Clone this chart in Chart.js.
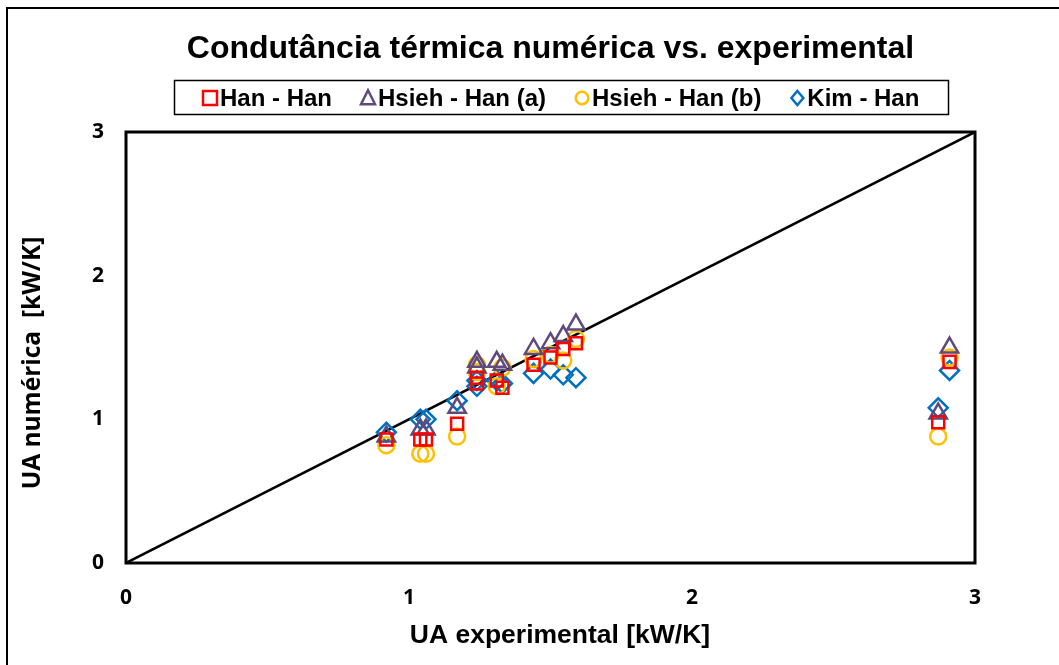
<!DOCTYPE html>
<html>
<head>
<meta charset="utf-8">
<script src="https://cdn.jsdelivr.net/npm/chart.js@4"></script>
<style>
html,body{margin:0;padding:0;background:#fff;}
#wrap{width:1059px;height:665px;position:relative;}
</style>
</head>
<body>
<div id="wrap"><canvas id="c" width="1059" height="665"></canvas></div>
<script>
// x values (UA experimental) shared by all series
const uaExp = [0.92, 1.04, 1.06, 1.17, 1.24, 1.24, 1.31, 1.33, 1.44, 1.50, 1.545, 1.59, 2.87, 2.91];
const hanHan   = [0.86, 0.86, 0.86, 0.97, 1.29, 1.25, 1.27, 1.22, 1.38, 1.43, 1.49, 1.53, 0.98, 1.40];
const hsiehA   = [0.88, 0.93, 0.93, 1.08, 1.40, 1.36, 1.40, 1.38, 1.49, 1.53, 1.58, 1.66, 1.04, 1.50];
const hsiehB   = [0.82, 0.76, 0.76, 0.88, 1.38, 1.33, 1.23, 1.36, 1.42, 1.45, 1.41, 1.56, 0.88, 1.43];
const kimHan   = [0.91, 1.00, 1.00, 1.13, 1.27, 1.23, 1.27, 1.25, 1.32, 1.35, 1.31, 1.29, 1.08, 1.34];
const lineX = [0, 3];
const lineY = [0, 3];
const tickValues = [0, 1, 2, 3];
const seriesNames = ['Han - Han', 'Hsieh - Han (a)', 'Hsieh - Han (b)', 'Kim - Han'];
const titleText = 'Condutância térmica numérica vs. experimental';
const xTitle = 'UA experimental [kW/K]';
const yTitle = 'UA numérica  [kW/K]';

const pts = (xs, ys) => xs.map((x, i) => ({x: x, y: ys[i]}));

function drawMarker(ctx, style, color, cx, cy, r, lw) {
  ctx.save();
  ctx.strokeStyle = color; ctx.lineWidth = lw;
  ctx.beginPath();
  if (style === 'rect') {
    ctx.rect(cx - r, cy - r, 2 * r, 2 * r);
  } else if (style === 'triangle') {
    ctx.moveTo(cx, cy - r * 1.1); ctx.lineTo(cx + r, cy + r * 0.9); ctx.lineTo(cx - r, cy + r * 0.9); ctx.closePath();
  } else if (style === 'circle') {
    ctx.arc(cx, cy, r * 0.9, 0, Math.PI * 2);
  } else {
    ctx.moveTo(cx, cy - r); ctx.lineTo(cx + r * 0.85, cy); ctx.lineTo(cx, cy + r); ctx.lineTo(cx - r * 0.85, cy); ctx.closePath();
  }
  ctx.stroke();
  ctx.restore();
}

const framePlugin = {
  id: 'frame',
  beforeDraw(chart) {
    const ctx = chart.ctx;
    ctx.save();
    ctx.strokeStyle = '#000';
    ctx.lineWidth = 2;
    ctx.beginPath();
    ctx.moveTo(7, 670); ctx.lineTo(7, 8); ctx.lineTo(1070, 8);
    ctx.stroke();
    ctx.restore();
  },
  afterDatasetsDraw(chart) {
    const ctx = chart.ctx, a = chart.chartArea;
    ctx.save();
    ctx.strokeStyle = '#000';
    ctx.lineWidth = 3;
    ctx.strokeRect(a.left, a.top, a.right - a.left, a.bottom - a.top);
    ctx.restore();
  },
  afterDraw(chart) {
    const ctx = chart.ctx;
    ctx.save();
    // custom legend
    const items = chart.data.datasets.filter(d => d.type === 'scatter');
    ctx.font = 'bold 24px "Liberation Sans", Arial';
    ctx.textBaseline = 'middle';
    ctx.fillStyle = '#000';
    const mW = 14, gapT = 3, gapI = 29, pad = 29;
    const widths = items.map(d => mW + gapT + ctx.measureText(d.label).width);
    const total = widths.reduce((s, w) => s + w, 0) + gapI * (items.length - 1);
    const boxW = total + 2 * pad;
    const cx = 561;
    const boxL = Math.round(cx - boxW / 2);
    const boxTop = 80, boxH = 34, cy = 98;
    ctx.lineWidth = 1.5;
    ctx.strokeStyle = '#000';
    ctx.strokeRect(boxL + 0.5, boxTop + 0.5, Math.round(boxW), boxH);
    let x = boxL + pad;
    items.forEach((d, i) => {
      drawMarker(ctx, d.pointStyle, d.pointBorderColor, x + mW / 2, cy, 7, 2.5);
      ctx.fillText(d.label, x + mW + gapT, cy + 1);
      x += widths[i] + gapI;
    });
    // axis titles
    ctx.textAlign = 'center';
    ctx.font = 'bold 26.5px "Liberation Sans", Arial';
    ctx.fillText(xTitle, 560, 636);
    ctx.translate(33, 363);
    ctx.rotate(-Math.PI / 2);
    ctx.font = 'bold 24.5px "Open Sans"';
    ctx.fillText(yTitle, 0, 0);
    ctx.restore();
  }
};

const styles = ['rect', 'triangle', 'circle', 'rectRot'];
const colors = ['#ff0000', '#604a7b', '#ffc000', '#0070c0'];
const radii = [8.5, 10, 8, 9.5];
const mk = (i, data) => ({
  type: 'scatter', label: seriesNames[i], data,
  pointStyle: styles[i],
  pointRadius: radii[i],
  pointBorderWidth: 2.5,
  borderColor: colors[i], backgroundColor: 'rgba(0,0,0,0)',
  pointBackgroundColor: 'rgba(0,0,0,0)', pointBorderColor: colors[i],
  showLine: false, order: 1
});

new Chart(document.getElementById('c'), {
  data: {
    datasets: [
      mk(0, pts(uaExp, hanHan)),
      mk(1, pts(uaExp, hsiehA)),
      mk(2, pts(uaExp, hsiehB)),
      mk(3, pts(uaExp, kimHan)),
      {
        type: 'line', label: 'diag', data: pts(lineX, lineY),
        borderColor: '#000', borderWidth: 2.5, pointRadius: 0, fill: false, order: 2
      }
    ]
  },
  options: {
    responsive: false, animation: false,
    layout: {padding: {left: 0, right: 84, top: 0, bottom: 0}},
    plugins: {
      title: {
        display: true, text: titleText, fullSize: false,
        color: '#000', font: {family: '"Liberation Sans", Arial', size: 32, weight: 'bold'},
        padding: {top: 30, bottom: 63.6}
      },
      legend: {display: false},
      tooltip: {enabled: false}
    },
    scales: {
      x: {
        type: 'linear', min: 0, max: 3,
        afterBuildTicks: (s) => { s.ticks = tickValues.map(v => ({value: v})); },
        afterFit: (s) => { s.height = 665 - 563; },
        grid: {display: false, drawTicks: false},
        border: {display: false},
        ticks: {color: '#000', padding: 22, font: {family: 'Open Sans', size: 21, weight: 'bold'}}
      },
      y: {
        type: 'linear', min: 0, max: 3,
        afterBuildTicks: (s) => { s.ticks = tickValues.map(v => ({value: v})); },
        afterFit: (s) => { s.width = 126; },
        grid: {display: false, drawTicks: false},
        border: {display: false},
        ticks: {color: '#000', padding: 22, font: {family: 'Open Sans', size: 21, weight: 'bold'}}
      }
    }
  },
  plugins: [framePlugin]
});
</script>
</body>
</html>
